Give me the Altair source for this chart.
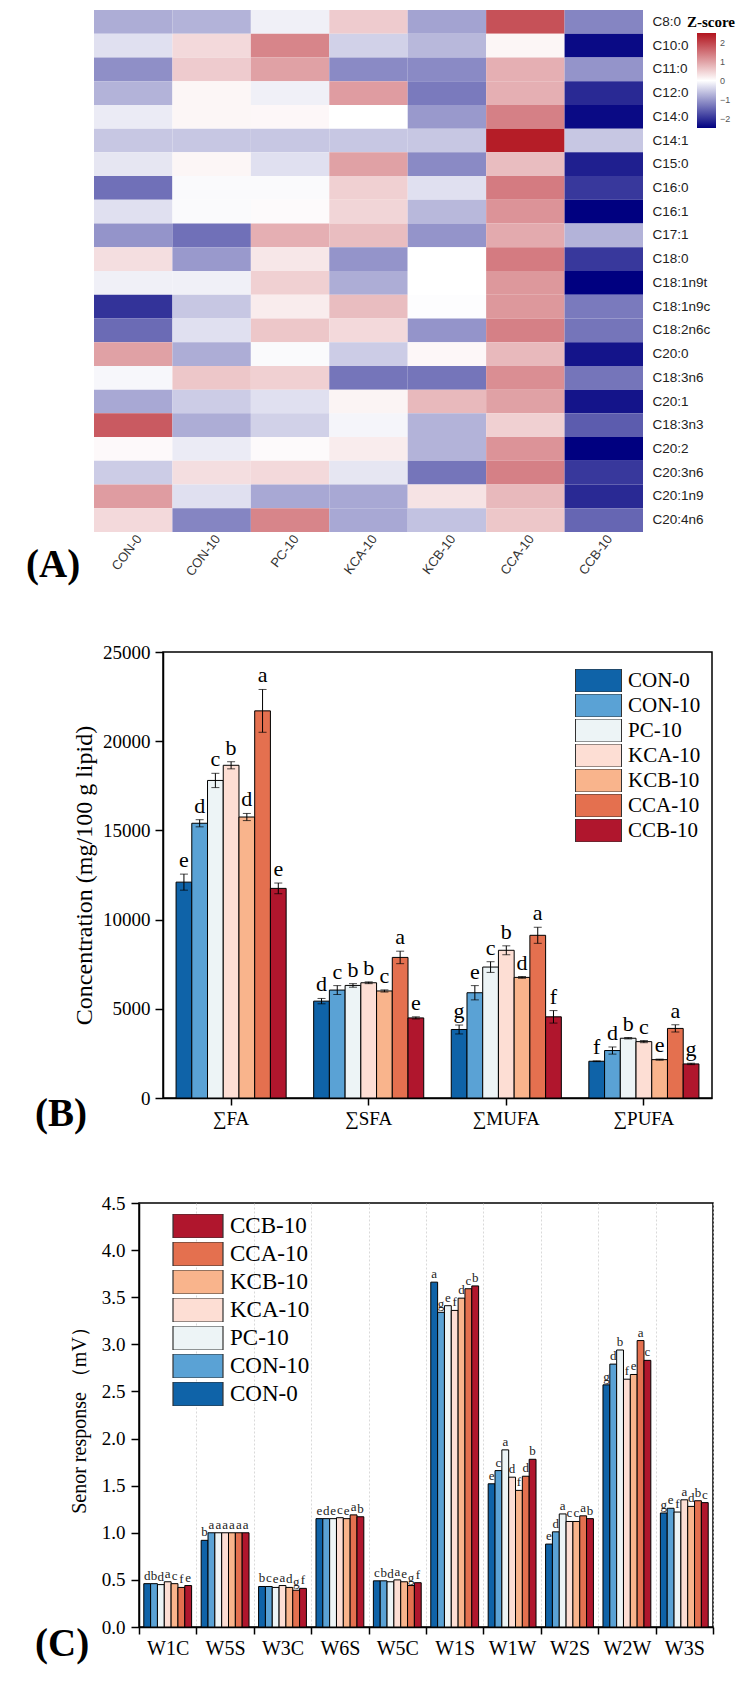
import altair as alt
import pandas as pd

SERIF = "Liberation Serif"
SANS = "Liberation Sans"

groups = ["CON-0", "CON-10", "PC-10", "KCA-10", "KCB-10", "CCA-10", "CCB-10"]
group_colors = ["#0F63A8", "#5AA2D5", "#EDF4F6", "#FDDED4", "#F9B48C", "#E4704F", "#B0162D"]

# ---------------- Panel A: heatmap (Z-scores) ----------------
fatty_acids = ["C8:0", "C10:0", "C11:0", "C12:0", "C14:0", "C14:1", "C15:0", "C16:0",
               "C16:1", "C17:1", "C18:0", "C18:1n9t", "C18:1n9c", "C18:2n6c", "C20:0",
               "C18:3n6", "C20:1", "C18:3n3", "C20:2", "C20:3n6", "C20:1n9", "C20:4n6"]
z_con0 = [-0.8, -0.3, -1.1, -0.75, -0.2, -0.55, -0.25, -1.4, -0.3, -1.05, 0.35, -0.15,
          -2.0, -1.45, 1.0, -0.08, -0.85, 1.75, 0.06, -0.5, 1.05, 0.4]
z_con10 = [-0.75, 0.4, 0.55, 0.1, 0.1, -0.55, 0.1, -0.05, -0.05, -1.4, -1.0, -0.15,
           -0.55, -0.3, -0.8, 0.6, -0.5, -0.8, -0.2, 0.35, -0.3, -1.2]
z_pc10 = [-0.15, 1.3, 1.0, -0.15, 0.08, -0.55, -0.3, -0.05, 0.05, 0.85, 0.25, 0.5,
          0.2, 0.6, -0.05, 0.5, -0.3, -0.45, 0.05, 0.4, -0.85, 1.3]
z_kca10 = [0.55, -0.45, -1.15, 1.05, 0.0, -0.55, 1.0, 0.5, 0.45, 0.7, -1.05, -0.8,
           0.7, 0.4, -0.5, -1.35, 0.12, -0.1, 0.2, -0.25, -0.85, -0.85]
z_kcb10 = [-0.9, -0.7, -1.15, -1.3, -1.0, -0.55, -1.15, -0.3, -0.7, -1.05, 0.0, 0.0,
           -0.02, -1.05, 0.08, -1.35, 0.75, -0.75, -0.75, -1.35, 0.3, -0.6]
z_cca10 = [1.85, 0.1, 0.85, 0.85, 1.35, 2.4, 0.7, 1.4, 1.15, 0.9, 1.4, 1.1,
           1.1, 1.35, 0.75, 1.2, 1.0, 0.5, 1.15, 1.35, 0.75, 0.6]
z_ccb10 = [-1.2, -2.4, -1.05, -2.1, -2.4, -0.55, -2.2, -1.95, -2.5, -0.75, -1.95, -2.5,
           -1.3, -1.35, -2.3, -1.35, -2.3, -1.6, -2.5, -1.95, -2.1, -1.5]
z_columns = [z_con0, z_con10, z_pc10, z_kca10, z_kcb10, z_cca10, z_ccb10]

hm_rows = []
for j, g in enumerate(groups):
    for i, fa in enumerate(fatty_acids):
        hm_rows.append({"grp": g, "fa": fa, "z": z_columns[j][i]})
hm_df = pd.DataFrame(hm_rows)

# Offsets of each panel's plot origin from its row origin (legends are placed relative to the row)
OFF_A, OFF_B, OFF_C = 74, 143, 119

heat = alt.Chart(hm_df).mark_rect().encode(
    x=alt.X("grp:N", sort=groups, scale=alt.Scale(paddingInner=0, paddingOuter=0),
            axis=alt.Axis(title=None, labelAngle=307, labelAlign="right", labelBaseline="middle",
                          labelFont=SANS, labelFontSize=13, labelColor="#333", ticks=False,
                          domain=False, labelPadding=4, labelOffset=6)),
    y=alt.Y("fa:N", sort=fatty_acids, scale=alt.Scale(paddingInner=0, paddingOuter=0),
            axis=alt.Axis(title=None, orient="right", ticks=False, domain=False,
                          labelFont=SANS, labelFontSize=13.5, labelColor="#222", labelPadding=9)),
    color=alt.Color("z:Q",
                    scale=alt.Scale(domain=[-2.5, 0, 2.5], range=["#000080", "#ffffff", "#B2141E"],
                                    interpolate="rgb"),
                    legend=alt.Legend(title=None, orient="none", legendX=604 + OFF_A, legendY=23,
                                      direction="vertical", gradientLength=95, gradientThickness=19,
                                      values=[-2, -1, 0, 1, 2], labelFont=SANS, labelFontSize=9,
                                      labelColor="#555", labelOffset=4, gradientStrokeWidth=0)),
)


def text_layer(txt, x, y, size, weight="normal", align="left", font=SERIF):
    return alt.Chart(pd.DataFrame({"t": [txt]})).mark_text(
        font=font, fontSize=size, fontWeight=weight, align=align, baseline="middle", color="black"
    ).encode(x=alt.value(x), y=alt.value(y), text="t:N")


def anchor(x, y0, y1):
    # invisible (white) layout guide that fixes the panel's outer bounds
    return alt.Chart(pd.DataFrame({"a": [0]})).mark_rule(color="white", strokeWidth=1).encode(
        x=alt.value(x), y=alt.value(y0), y2=alt.value(y1))


panelA = alt.layer(
    anchor(-71.5, 0, 599.5),
    heat,
    text_layer("Z-score", 617, 12, 15, "bold", "center"),
    text_layer("(A)", -68, 555, 39, "bold"),
).properties(width=549, height=522)

# ---------------- Panel B: grouped bars with error bars ----------------
cats_b = ["∑FA", "∑SFA", "∑MUFA", "∑PUFA"]
fa_mean = [12100, 15400, 17800, 18650, 15750, 21700, 11750]
fa_err = [450, 200, 400, 200, 200, 1200, 300]
fa_letters = ["e", "d", "c", "b", "d", "a", "e"]
sfa_mean = [5430, 6050, 6310, 6460, 6000, 7880, 4490]
sfa_err = [150, 250, 100, 50, 60, 350, 60]
sfa_letters = ["d", "c", "b", "b", "c", "a", "e"]
mufa_mean = [3840, 5900, 7340, 8280, 6760, 9120, 4550]
mufa_err = [250, 400, 300, 250, 50, 450, 350]
mufa_letters = ["g", "e", "c", "b", "d", "a", "f"]
pufa_mean = [2060, 2660, 3350, 3160, 2150, 3900, 1910]
pufa_err = [20, 200, 40, 60, 30, 200, 40]
pufa_letters = ["f", "d", "b", "c", "e", "a", "g"]

b_rows = []
for cat, means, errs, lets in zip(cats_b, [fa_mean, sfa_mean, mufa_mean, pufa_mean],
                                  [fa_err, sfa_err, mufa_err, pufa_err],
                                  [fa_letters, sfa_letters, mufa_letters, pufa_letters]):
    for g, m, e, l in zip(groups, means, errs, lets):
        b_rows.append({"cat": cat, "grp": g, "val": m, "err": e, "letter": l})
b_df = pd.DataFrame(b_rows)

legend_path_b = "M-1,-0.5L1,-0.5L1,0.5L-1,0.5Z"
yscale_b = alt.Scale(domain=[0, 25000])
yaxis_b = alt.Axis(title="Concentration (mg/100 g lipid)", values=[0, 5000, 10000, 15000, 20000, 25000],
                   format="d", grid=False, titleFont=SERIF, titleFontSize=24, titleFontWeight="normal",
                   titleColor="black", titlePadding=6, labelFont=SERIF, labelFontSize=19,
                   labelColor="black", tickSize=8, tickColor="black", tickWidth=1.5,
                   domainColor="black", domainWidth=1.5, labelPadding=5)
xaxis_b = alt.Axis(title=None, labelAngle=0, labelFont=SERIF, labelFontSize=19, labelColor="black",
                   tickSize=7, tickColor="black", tickWidth=1.5, domainColor="black",
                   domainWidth=1.5, labelPadding=4, grid=False)

base_b = alt.Chart(b_df).transform_calculate(
    hi="datum.val + datum.err", lo="datum.val - datum.err"
).encode(
    x=alt.X("cat:N", sort=cats_b, scale=alt.Scale(paddingInner=0.2, paddingOuter=0.095), axis=xaxis_b),
    xOffset=alt.XOffset("grp:N", sort=groups, scale=alt.Scale(paddingInner=0, paddingOuter=0)),
)
bars_b = base_b.mark_bar(stroke="black", strokeWidth=1).encode(
    y=alt.Y("val:Q", scale=yscale_b, axis=yaxis_b),
    color=alt.Color("grp:N", scale=alt.Scale(domain=groups, range=group_colors),
                    legend=alt.Legend(title=None, orient="none", legendX=413 + OFF_B, legendY=17,
                                      symbolType=legend_path_b, symbolSize=2116,
                                      symbolStrokeColor="#333", symbolStrokeWidth=1,
                                      symbolOpacity=1, labelFont=SERIF, labelFontSize=21,
                                      labelColor="black", labelOffset=6, rowPadding=2,
                                      clipHeight=23)),
)
err_b = base_b.mark_rule(color="black", strokeWidth=1).encode(
    y=alt.Y("lo:Q", scale=yscale_b, axis=yaxis_b), y2="hi:Q")
caphi_b = base_b.mark_tick(color="black", thickness=1, size=8, orient="horizontal").encode(
    y=alt.Y("hi:Q", scale=yscale_b, axis=yaxis_b))
caplo_b = base_b.mark_tick(color="black", thickness=1, size=8, orient="horizontal").encode(
    y=alt.Y("lo:Q", scale=yscale_b, axis=yaxis_b))
let_b = base_b.mark_text(font=SERIF, fontSize=22, baseline="bottom", dy=-2, color="black").encode(
    y=alt.Y("hi:Q", scale=yscale_b, axis=yaxis_b), text="letter:N")

panelB = alt.layer(
    anchor(-140.5, -39.5, 509.5),
    bars_b, err_b, caphi_b, caplo_b, let_b,
    text_layer("(B)", -128, 462, 39, "bold"),
).properties(width=549, height=446, view=alt.ViewBackground(stroke="black", strokeWidth=1.5))

# ---------------- Panel C: electronic nose sensor responses ----------------
sensors = ["W1C", "W5S", "W3C", "W6S", "W5C", "W1S", "W1W", "W2S", "W2W", "W3S"]
w1c = [0.46, 0.46, 0.45, 0.48, 0.46, 0.42, 0.44]
w5s = [0.92, 1.00, 1.00, 1.00, 1.00, 1.00, 1.00]
w3c = [0.43, 0.43, 0.42, 0.44, 0.42, 0.39, 0.41]
w6s = [1.15, 1.15, 1.15, 1.16, 1.15, 1.19, 1.17]
w5c = [0.49, 0.49, 0.48, 0.50, 0.48, 0.44, 0.47]
w1s = [3.66, 3.34, 3.41, 3.36, 3.49, 3.59, 3.62]
w1w = [1.52, 1.66, 1.88, 1.59, 1.45, 1.60, 1.78]
w2s = [0.88, 1.01, 1.20, 1.12, 1.12, 1.18, 1.15]
w2w = [2.57, 2.79, 2.94, 2.63, 2.68, 3.04, 2.83]
w3s = [1.21, 1.26, 1.22, 1.35, 1.28, 1.34, 1.32]
w1c_letters = ["d", "b", "d", "a", "c", "f", "e"]
w5s_letters = ["b", "a", "a", "a", "a", "a", "a"]
w3c_letters = ["b", "c", "e", "a", "d", "g", "f"]
w6s_letters = ["e", "d", "e", "c", "e", "a", "b"]
w5c_letters = ["c", "b", "d", "a", "e", "g", "f"]
w1s_letters = ["a", "g", "e", "f", "d", "c", "b"]
w1w_letters = ["e", "c", "a", "d", "f", "d", "b"]
w2s_letters = ["e", "d", "a", "c", "c", "a", "b"]
w2w_letters = ["g", "d", "b", "f", "e", "a", "c"]
w3s_letters = ["g", "e", "f", "a", "d", "b", "c"]

c_vals = [w1c, w5s, w3c, w6s, w5c, w1s, w1w, w2s, w2w, w3s]
c_lets = [w1c_letters, w5s_letters, w3c_letters, w6s_letters, w5c_letters,
          w1s_letters, w1w_letters, w2s_letters, w2w_letters, w3s_letters]
c_rows = []
for s, vals, lets in zip(sensors, c_vals, c_lets):
    for g, v, l in zip(groups, vals, lets):
        c_rows.append({"sensor": s, "grp": g, "resp": v, "letter": l})
c_df = pd.DataFrame(c_rows)

legend_path_c = "M-1,-0.48L1,-0.48L1,0.48L-1,0.48Z"
yscale_c = alt.Scale(domain=[0, 4.5])
yaxis_c = alt.Axis(title="Senor response （mV）", values=[0, 0.5, 1, 1.5, 2, 2.5, 3, 3.5, 4, 4.5],
                   format=".1f", grid=False, titleFont=SERIF, titleFontSize=20,
                   titleFontWeight="normal", titleColor="black", titlePadding=12,
                   labelFont=SERIF, labelFontSize=19, labelColor="black", tickSize=8,
                   tickColor="black", tickWidth=1.5, domainColor="black", domainWidth=1.5,
                   labelPadding=6)
xaxis_c = alt.Axis(title=None, labelAngle=0, labelFont=SERIF, labelFontSize=20, labelColor="black",
                   tickSize=7, tickColor="black", tickWidth=1.5, tickBand="extent",
                   domainColor="black", domainWidth=1.5, labelPadding=4, grid=True,
                   gridColor="#cfcfcf", gridDash=[2, 2], gridWidth=0.8)

base_c = alt.Chart(c_df).encode(
    x=alt.X("sensor:N", sort=sensors, scale=alt.Scale(paddingInner=0, paddingOuter=0), axis=xaxis_c),
    xOffset=alt.XOffset("grp:N", sort=groups, scale=alt.Scale(paddingInner=0, paddingOuter=0.7)),
)
bars_c = base_c.mark_bar(stroke="black", strokeWidth=1).encode(
    y=alt.Y("resp:Q", scale=yscale_c, axis=yaxis_c),
    color=alt.Color("grp:N", scale=alt.Scale(domain=groups[::-1], range=group_colors[::-1]),
                    legend=alt.Legend(title=None, orient="none", legendX=34 + OFF_C, legendY=11,
                                      symbolType=legend_path_c, symbolSize=2500,
                                      symbolStrokeColor="#333", symbolStrokeWidth=1.2,
                                      symbolOpacity=1, labelFont=SERIF, labelFontSize=23,
                                      labelColor="black", labelOffset=6, rowPadding=4,
                                      clipHeight=24)),
)
let_c = base_c.mark_text(font=SERIF, fontSize=13, baseline="bottom", dy=-1, color="#222").encode(
    y=alt.Y("resp:Q", scale=yscale_c, axis=yaxis_c), text="letter:N")

panelC = alt.layer(
    anchor(-116.5, -38.5, 461.5),
    bars_c, let_c,
    text_layer("(C)", -104, 441, 39, "bold"),
).properties(width=574, height=424, view=alt.ViewBackground(stroke="black", strokeWidth=1.5))


def spacer():
    return alt.Chart(pd.DataFrame({"a": [0]})).mark_rule(color="white", strokeWidth=1).encode(
        x=alt.value(0), x2=alt.value(1), y=alt.value(0)
    ).properties(width=1, height=1)


rowA = alt.hconcat(spacer(), panelA, spacing=0)
rowB = alt.hconcat(spacer(), panelB, spacing=0)
rowC = alt.hconcat(spacer(), panelC, spacing=0)

chart = alt.vconcat(rowA, rowB, rowC, spacing=0).resolve_scale(
    color="independent", x="independent", y="independent", xOffset="independent"
).properties(
    padding={"left": 10, "top": 1, "right": 0, "bottom": 0}
).configure_view(stroke="transparent")

chart.save("out.html", embed_options={"renderer": "svg", "actions": False})
